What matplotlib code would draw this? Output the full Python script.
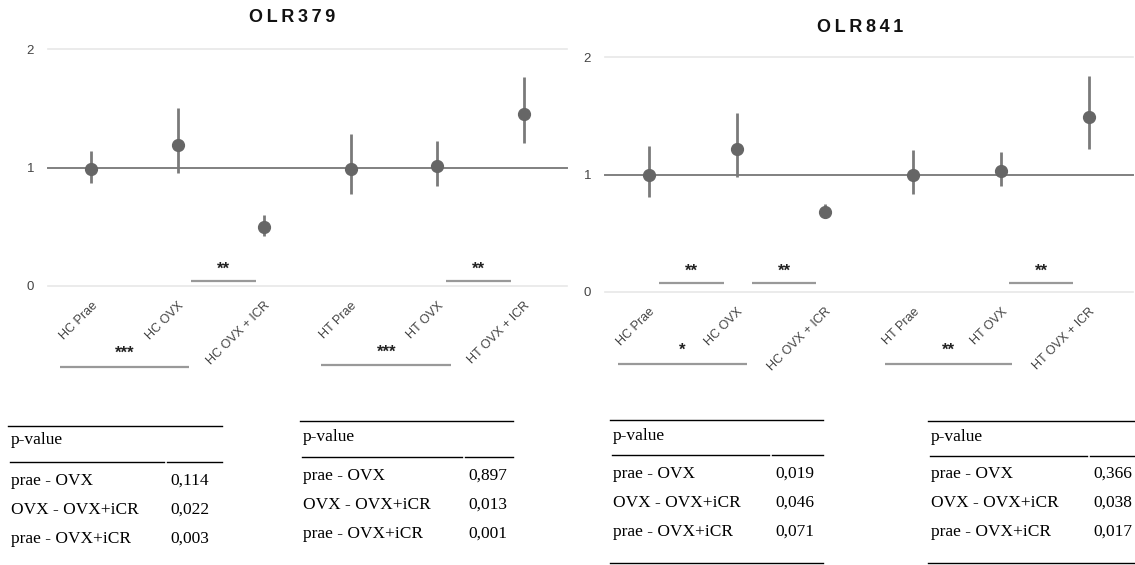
import matplotlib
matplotlib.use("Agg")
import matplotlib.pyplot as plt
import numpy as np

# ---------------- data ----------------
categories = ["HC Prae", "HC OVX", "HC OVX + ICR", "HT Prae", "HT OVX", "HT OVX + ICR"]

olr379_mean = [0.99, 1.19, 0.50, 0.99, 1.01, 1.45]
olr379_low = [0.87, 0.95, 0.42, 0.78, 0.84, 1.21]
olr379_high = [1.14, 1.50, 0.60, 1.28, 1.22, 1.76]

olr841_mean = [1.00, 1.22, 0.68, 1.00, 1.03, 1.49]
olr841_low = [0.81, 0.98, 0.64, 0.83, 0.90, 1.22]
olr841_high = [1.24, 1.52, 0.75, 1.21, 1.19, 1.84]

yticks = [0, 1, 2]

sig379_labels = ["**", "**", "***", "***"]
sig841_labels = ["**", "**", "**", "*", "**"]

table_rows = ["prae - OVX", "OVX - OVX+iCR", "prae - OVX+iCR"]
pvals_379_hc = ["0,114", "0,022", "0,003"]
pvals_379_ht = ["0,897", "0,013", "0,001"]
pvals_841_hc = ["0,019", "0,046", "0,071"]
pvals_841_ht = ["0,366", "0,038", "0,017"]

# ---------------- layout ----------------
W, H = 1135, 565
fig = plt.figure(figsize=(W / 100, H / 100), dpi=100)


def fx(px):
    return px / W


def fy(py):
    return 1 - py / H


def make_axes(x0, x1, y2, y0):
    return fig.add_axes([fx(x0), fy(y0), fx(x1) - fx(x0), fy(y2) - fy(y0)])


def draw_panel(ax, title, mean, low, high, sig_labels, sig_pos, title_xy):
    x = np.arange(len(categories))
    mean = np.array(mean)
    low = np.array(low)
    high = np.array(high)
    ax.set_xlim(-0.5, len(categories) - 0.5)
    ax.set_ylim(0, 2)
    for s in ax.spines.values():
        s.set_visible(False)
    for yv in (0, 2):
        ax.axhline(yv, color="#e8e8e8", lw=1.2, zorder=0, clip_on=False)
    ax.axhline(1, color="#808080", lw=1.4, zorder=1, clip_on=False)
    ax.errorbar(x, mean, yerr=[mean - low, high - mean], fmt="o", color="#666666",
                ecolor="#7a7a7a", elinewidth=2.0, markersize=8.5, capsize=0,
                zorder=3, clip_on=False)
    ax.set_yticks(yticks)
    ax.set_yticklabels([str(t) for t in yticks], fontsize=9.5, color="#444444",
                       family="Liberation Sans")
    ax.tick_params(axis="y", length=0, pad=10)
    ax.set_xticks(x)
    ax.set_xticklabels(categories, rotation=45, ha="right", rotation_mode="anchor",
                       fontsize=9, color="#444444", family="Liberation Sans")
    ax.tick_params(axis="x", length=0, pad=10)
    for lab, (x0, x1, yl, yt) in zip(sig_labels, sig_pos):
        ax.plot([x0, x1], [yl, yl], color="#999999", lw=1.6, clip_on=False,
                solid_capstyle="butt")
        ax.text((x0 + x1) / 2, yt, lab, ha="center", va="center", fontsize=12,
                fontweight="bold", color="#222222", clip_on=False,
                family="Liberation Sans")
    fig.text(fx(title_xy[0]), fy(title_xy[1]), title, ha="center", va="center",
             fontsize=13, fontweight="bold", color="#111111", family="Liberation Sans")


axL = make_axes(48, 567, 49, 286)
draw_panel(axL, "O L R 3 7 9".replace(" ", "\u2009"), olr379_mean, olr379_low, olr379_high,
           sig379_labels,
           [(1.15, 1.9, 0.04, 0.14), (4.1, 4.85, 0.04, 0.14),
            (-0.36, 1.13, -0.68, -0.565), (2.66, 4.16, -0.67, -0.555)],
           (292, 18))

axR = make_axes(605, 1133, 57, 292)
draw_panel(axR, "O L R 8 4 1".replace(" ", "\u2009"), olr841_mean, olr841_low, olr841_high,
           sig841_labels,
           [(0.11, 0.85, 0.076, 0.18), (1.17, 1.9, 0.076, 0.18), (4.09, 4.82, 0.076, 0.18),
            (-0.35, 1.11, -0.61, -0.5), (2.68, 4.13, -0.61, -0.5)],
           (860, 28))


# ---------------- tables ----------------
def draw_table(left, right, split, top, header_y, sub_y, row_ys, vals, bottom=None):
    kw = dict(color="black", lw=1.0, transform=fig.transFigure)
    fig.add_artist(plt.Line2D([fx(left), fx(right)], [fy(top), fy(top)], **kw))
    fig.add_artist(plt.Line2D([fx(left + 2), fx(split - 2)], [fy(sub_y), fy(sub_y)], **kw))
    fig.add_artist(plt.Line2D([fx(split + 1), fx(right)], [fy(sub_y), fy(sub_y)], **kw))
    if bottom is not None:
        fig.add_artist(plt.Line2D([fx(left), fx(right)], [fy(bottom), fy(bottom)], **kw))
    tkw = dict(fontsize=12.5, family="Liberation Serif", color="black", va="center")
    fig.text(fx(left + 3), fy(header_y), "p-value", ha="left", **tkw)
    for name, v, yy in zip(table_rows, vals, row_ys):
        fig.text(fx(left + 3), fy(yy), name, ha="left", **tkw)
        fig.text(fx(split + 4), fy(yy), v, ha="left", **tkw)


draw_table(8, 222, 166, 426, 440, 462, [481, 510, 539], pvals_379_hc)
draw_table(300, 513, 464, 421, 437, 457, [476, 505, 534], pvals_379_ht)
draw_table(610, 823, 771, 420, 436, 455, [474, 503, 532], pvals_841_hc, bottom=563)
draw_table(928, 1135, 1089, 421, 437, 456, [474, 503, 532], pvals_841_ht, bottom=563)

fig.savefig("out.png", dpi=100, facecolor="white")
